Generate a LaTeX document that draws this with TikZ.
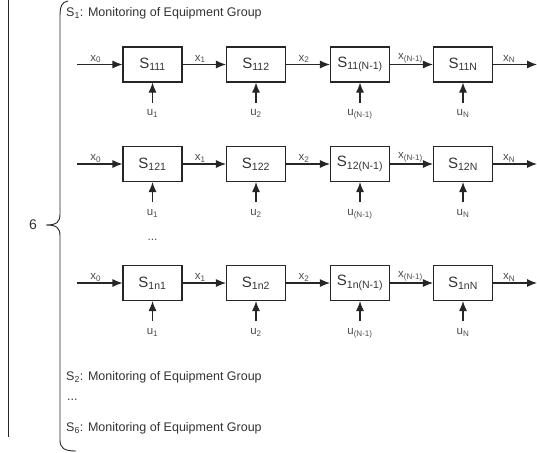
\documentclass[tikz,border=0pt]{standalone}
\usepackage{fontspec}
\setmainfont{Liberation Sans}
\usetikzlibrary{arrows.meta}
\begin{document}
\begin{tikzpicture}[x=1pt,y=-1pt,
  blk/.style={draw=black!85, line width=1.1pt, minimum width=59pt, minimum height=35pt, inner sep=0pt, font=\fontsize{15}{17}\selectfont, text=black!80},
  sig/.style={draw=black!85, line width=1.1pt, -{Latex[length=10pt,width=8pt]}},
  lbl/.style={font=\fontsize{11.5}{13}\selectfont, text=black!70, inner sep=1pt},
  ttl/.style={font=\fontsize{12.5}{14}\selectfont, text=black!80, anchor=west, inner sep=0pt},
  frame/.style={draw=black!85, line width=0.9pt}]
\useasboundingbox (0,0) rectangle (537,452);
% left line and brace
\coordinate (lt) at (8,0);
\coordinate (lb) at (8,437);
\draw[frame] (lt) -- (lb);
\draw[frame] (68,1) .. controls (62,2) and (60,6) .. (60,16) -- (60,214)
  .. controls (60,222) and (57,225) .. (46,225)
  .. controls (57,225) and (60,228) .. (60,236) -- (60,440)
  .. controls (60,448) and (64,451) .. (76,451);
\node[font=\fontsize{14}{16}\selectfont, text=black!80] (cnt) at (33,225) {6};
% titles
\node[ttl] (t1) at (66,13) {S\textsubscript{1}: Monitoring of Equipment Group};
\node[ttl] (t2) at (66,377) {S\textsubscript{2}: Monitoring of Equipment Group};
\node[ttl] (td) at (67,400) {...};
\node[ttl] (t6) at (66,428) {S\textsubscript{6}: Monitoring of Equipment Group};
\node[lbl, font=\fontsize{12}{14}\selectfont] (rd) at (152.5,240) {...};
% rows
\foreach \r/\y in {11/64.5, 12/164, 1n/283} {
  \node[blk] (a\r) at (152.5,\y) {S\textsubscript{\r1}};
  \node[blk] (b\r) at (256,\y) {S\textsubscript{\r2}};
  \node[blk] (c\r) at (360,\y) {S\textsubscript{\r(N-1)}};
  \node[blk] (d\r) at (463,\y) {S\textsubscript{\r N}};
  \coordinate (in\r) at (77,\y);
  \coordinate (out\r) at (537,\y);
  \draw[sig] (in\r) -- node[lbl, above, xshift=-4pt] {x\textsubscript{0}} (a\r);
  \draw[sig] (a\r) -- node[lbl, above, xshift=-4pt] {x\textsubscript{1}} (b\r);
  \draw[sig] (b\r) -- node[lbl, above, xshift=-4pt] {x\textsubscript{2}} (c\r);
  \draw[sig] (c\r) -- node[lbl, above, xshift=-1pt] {x\textsubscript{(N-1)}} (d\r);
  \draw[sig] (d\r) -- node[lbl, above, xshift=-6pt] {x\textsubscript{N}} (out\r);
  \coordinate (ua\r) at (152.5,\y+38);
  \coordinate (ub\r) at (256,\y+38);
  \coordinate (uc\r) at (360,\y+38);
  \coordinate (ud\r) at (463,\y+38);
  \draw[sig] (ua\r) -- (a\r);
  \draw[sig] (ub\r) -- (b\r);
  \draw[sig] (uc\r) -- (c\r);
  \draw[sig] (ud\r) -- (d\r);
  \node[lbl, below=6pt] at (ua\r) {u\textsubscript{1}};
  \node[lbl, below=6pt] at (ub\r) {u\textsubscript{2}};
  \node[lbl, below=6pt] at (uc\r) {u\textsubscript{(N-1)}};
  \node[lbl, below=6pt] at (ud\r) {u\textsubscript{N}};
}
\end{tikzpicture}
\end{document}
